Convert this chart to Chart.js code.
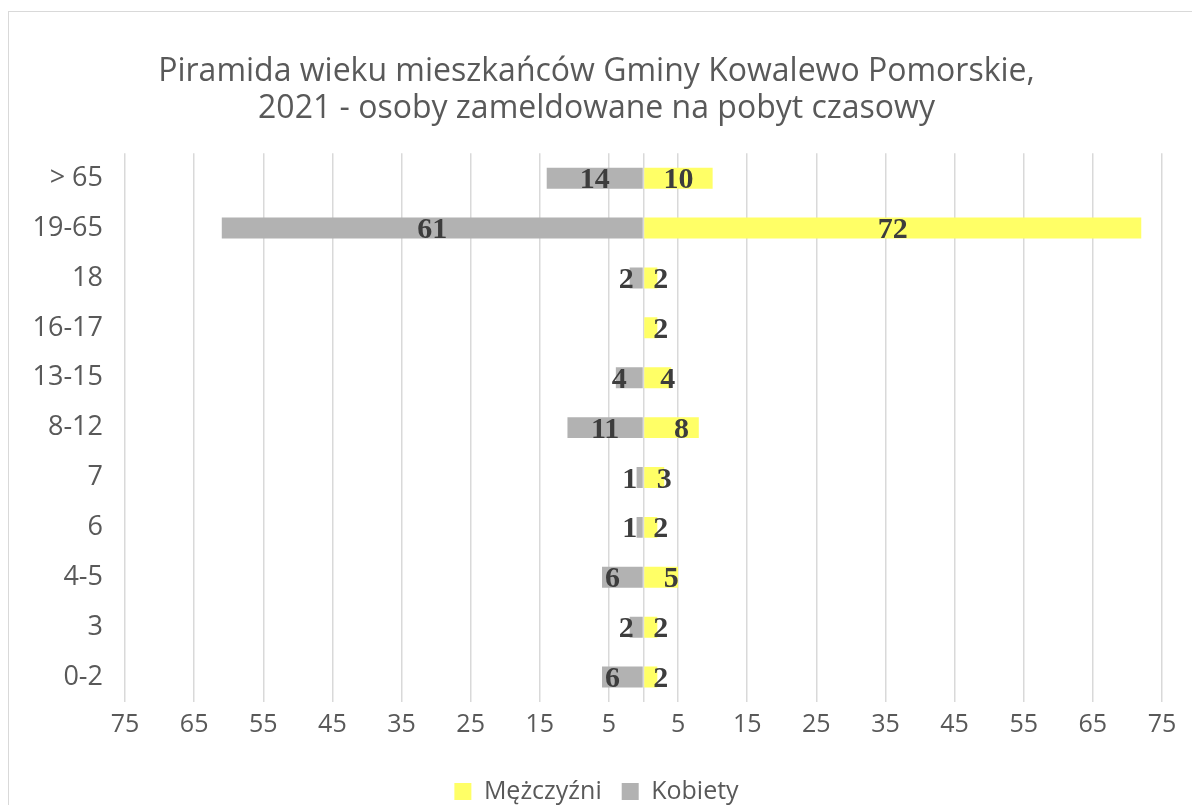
<!DOCTYPE html>
<html><head><meta charset="utf-8">
<script src="https://cdn.jsdelivr.net/npm/chart.js@4"></script>
<style>
html,body{margin:0;padding:0;background:#fff;overflow:hidden;width:1192px;height:805px;}
#box{position:absolute;left:8px;top:11px;width:1220px;height:840px;border:1.5px solid #d9d9d9;box-sizing:border-box;}
#wrap{position:absolute;left:9px;top:13px;width:1183px;height:809px;}
</style></head><body>
<div id="box"></div>
<div id="wrap"><canvas id="c" width="1183" height="809"></canvas></div>
<script>
const categories = ['> 65','19-65','18','16-17','13-15','8-12','7','6','4-5','3','0-2'];
const men = [10,72,2,2,4,8,3,2,5,2,2];
const women = [14,61,2,0,4,11,1,1,6,2,6];
const tickValues = [-75,-65,-55,-45,-35,-25,-15,-5,0,5,15,25,35,45,55,65,75];
const titleLines = ['Piramida wieku mieszkańców Gminy Kowalewo Pomorskie,','2021 - osoby zameldowane na pobyt czasowy'];

const FONT = '"Open Sans", sans-serif';
const labelPlugin = {
  id: 'barLabels',
  afterDatasetsDraw(chart) {
    const ctx = chart.ctx;
    ctx.save();
    ctx.font = 'bold 30px "Liberation Serif", serif';
    ctx.fillStyle = '#3d3d3d';
    ctx.textAlign = 'center';
    ctx.textBaseline = 'alphabetic';
    chart.data.datasets.forEach((ds, di) => {
      const meta = chart.getDatasetMeta(di);
      meta.data.forEach((el, i) => {
        const v = ds.data[i];
        if (!v) return;
        const dir = v < 0 ? -1 : 1;
        const txt = String(Math.abs(v));
        const shift = txt.length === 1 ? 10 : 0;
        const cx = (el.x + el.base) / 2 + dir * shift;
        ctx.fillText(txt, cx, el.y + 10);
      });
    });
    ctx.restore();
  }
};

new Chart(document.getElementById('c'), {
  type: 'bar',
  data: {
    labels: categories,
    datasets: [
      { label: 'Mężczyźni', data: men, backgroundColor: '#ffff66', borderWidth: 0 },
      { label: 'Kobiety', data: women.map(v => -v), backgroundColor: '#b2b2b2', borderWidth: 0 }
    ]
  },
  options: {
    indexAxis: 'y',
    responsive: false,
    animation: false,
    layout: { padding: { left: 22, right: 30, top: 0, bottom: 8 } },
    barPercentage: 1,
    categoryPercentage: 0.42,
    scales: {
      x: {
        stacked: true,
        min: -75, max: 75,
        afterBuildTicks(scale) { scale.ticks = tickValues.map(v => ({ value: v })); },
        afterFit(scale) { scale.height = 57; },
        grid: { color: '#d9d9d9', lineWidth: 1.5, drawTicks: false },
        border: { display: false },
        ticks: {
          padding: 8,
          color: '#595959',
          font: { family: FONT, size: 25 },
          callback: v => v === 0 ? '' : String(Math.abs(v)),
          autoSkip: false, maxRotation: 0
        }
      },
      y: {
        stacked: true,
        afterFit(scale) { scale.width = 94; },
        grid: { display: false, drawTicks: false },
        border: { display: false },
        ticks: { padding: 22, color: '#595959', font: { family: FONT, size: 27 } }
      }
    },
    plugins: {
      title: {
        display: true,
        text: titleLines,
        color: '#595959',
        font: { family: FONT, size: 32, weight: 'normal', lineHeight: 1.16 },
        padding: { top: 40, bottom: 26 }
      },
      legend: {
        position: 'bottom',
        labels: {
          color: '#595959',
          font: { family: FONT, size: 25 },
          boxWidth: 17, boxHeight: 17,
          padding: 20
        }
      },
      tooltip: { enabled: false }
    }
  },
  plugins: [labelPlugin]
});
</script>
</body></html>
